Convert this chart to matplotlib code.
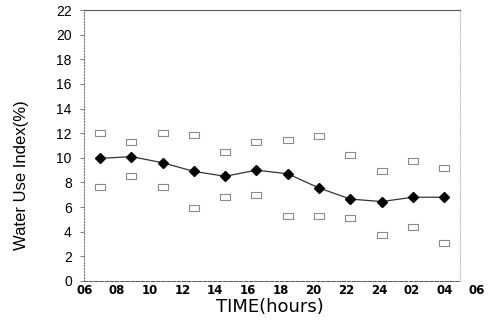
import numpy as np
import matplotlib
matplotlib.use("Agg")
import matplotlib.pyplot as plt

# measurement times (hours, 29 = 05 next morning)
hours = [7, 9, 11, 13, 15, 17, 19, 21, 23, 25, 27, 29]
mean_index = [9.95, 10.1, 9.6, 8.9, 8.5, 9.0, 8.7, 7.55, 6.65, 6.45, 6.8, 6.8]
upper_index = [12.05, 11.25, 12.0, 11.85, 10.5, 11.25, 11.45, 11.75, 10.25, 8.9, 9.75, 9.15]
lower_index = [7.65, 8.5, 7.65, 5.9, 6.8, 7.0, 5.25, 5.25, 5.1, 3.75, 4.35, 3.05]

x_labels = ["06", "08", "10", "12", "14", "16", "18", "20", "22", "24", "02", "04", "06"]
y_ticks = list(range(0, 23, 2))

plt.rcParams["font.family"] = ["Liberation Sans", "DejaVu Sans"]

fig = plt.figure(figsize=(4.9, 3.2), dpi=100)
ax = fig.add_axes([84.35 / 490, 1 - 281 / 320, 399 / 490, 271 / 320])

rect = [(-1, -0.6), (1, -0.6), (1, 0.6), (-1, 0.6), (-1, -0.6)]
ax.plot(hours, upper_index, linestyle="none", marker=rect, markersize=7,
        markerfacecolor="white", markeredgecolor="#8a8a8a", markeredgewidth=0.8)
ax.plot(hours, lower_index, linestyle="none", marker=rect, markersize=7,
        markerfacecolor="white", markeredgecolor="#8a8a8a", markeredgewidth=0.8)
ax.plot(hours, mean_index, color="#333333", linewidth=0.9, marker="D",
        markersize=5, markerfacecolor="black", markeredgecolor="black")

ax.set_xlim(6, 31.5)
ax.set_ylim(0, 22)

# the scanned axis labels drift a little wider than the data scale
tick_pos = np.linspace(6, 31.1, len(x_labels))
ax.set_xticks(tick_pos)
ax.set_xticklabels(x_labels, fontsize=8.5, fontweight="bold", family=["DejaVu Sans"])
ax.set_yticks(y_ticks)
ax.set_yticklabels([str(v) for v in y_ticks], fontsize=8.5, fontweight="bold",
                   family=["DejaVu Sans"])

ax.tick_params(axis="y", direction="out", length=3, width=0.6, color="#666666", pad=6)
ax.tick_params(axis="x", length=0, pad=2)

ax.spines["left"].set_linestyle(":")
ax.spines["left"].set_color("#777777")
ax.spines["left"].set_linewidth(0.8)
ax.spines["bottom"].set_linestyle("--")
ax.spines["bottom"].set_color("#555555")
ax.spines["bottom"].set_linewidth(0.7)
ax.spines["bottom"].set_bounds(6, 30)
ax.spines["top"].set_color("#555555")
ax.spines["top"].set_linewidth(0.8)
ax.spines["top"].set_bounds(6, 30)
ax.spines["right"].set_position(("data", 30))
ax.spines["right"].set_linestyle(":")
ax.spines["right"].set_color("#aaaaaa")
ax.spines["right"].set_linewidth(0.6)

fig.text(270 / 490, 1 - 307 / 320, "TIME(hours)", ha="center", va="center",
         fontsize=13, family=["DejaVu Sans"])
fig.text(22 / 490, 1 - 175 / 320, "Water Use Index(%)", ha="center", va="center",
         rotation=90, fontsize=12)

fig.savefig("out.png", dpi=100)
